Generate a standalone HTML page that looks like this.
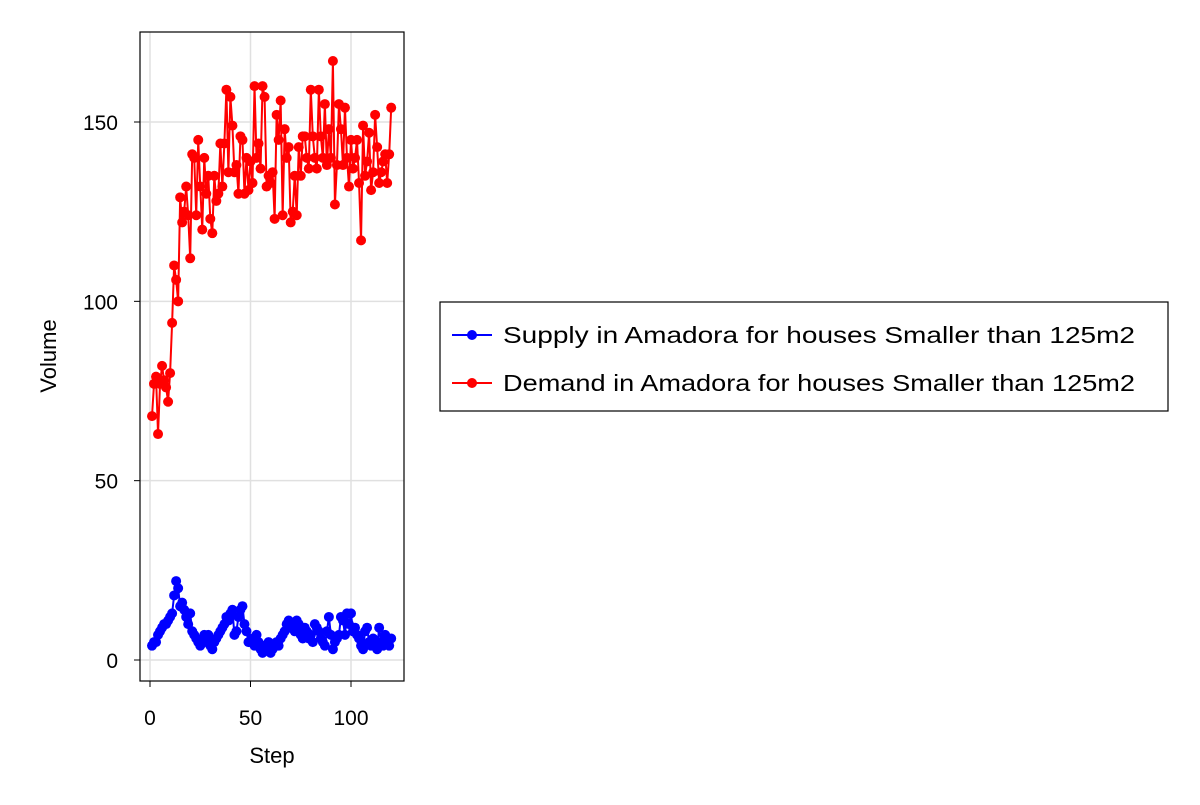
<!DOCTYPE html>
<html><head><meta charset="utf-8"><style>
body{margin:0;background:#fff;font-family:"Liberation Sans",Arial,sans-serif}
svg text{font-family:"Liberation Sans",Arial,sans-serif}
</style></head><body>
<svg id="c" width="1200" height="800" xmlns="http://www.w3.org/2000/svg"></svg>
<script>
const steps = Array.from({length:120},(_,i)=>i+1);
const demand = [68,77,79,63,77,82,78,76,72,80,
94,110,106,100,129,122,125,132,124,112,
141,140,124,145,132,120,140,130,135,123,
119,135,128,130,144,132,144,159,136,157,
149,136,138,130,146,145,130,140,131,139,
133,160,140,144,137,160,157,132,135,133,
136,123,152,145,156,124,148,140,143,122,
125,135,124,143,135,146,146,140,137,159,
146,140,137,159,146,140,155,138,148,140,
167,127,138,155,148,138,154,140,132,145,
137,140,145,133,117,149,135,139,147,131,
136,152,143,133,136,139,141,133,141,154];
const supply = [4,5,5,7,8,9,10,10,11,12,
13,18,22,20,15,16,14,12,10,13,
8,7,6,5,4,6,7,5,7,4,
3,5,6,7,8,9,10,12,11,13,
14,7,8,12,14,15,10,8,5,5,
6,4,7,5,3,2,4,3,5,2,
3,4,5,4,6,7,8,10,11,9,
10,8,11,10,7,6,9,8,6,7,
5,10,9,8,6,5,4,8,12,7,
3,5,6,7,12,11,7,13,10,13,
8,9,7,6,4,3,8,9,5,4,
6,4,3,9,5,4,7,5,4,6];
const xTicks = [0,50,100];
const yTicks = [0,50,100,150];
const seriesNames = ["Supply in Amadora for houses Smaller than 125m2","Demand in Amadora for houses Smaller than 125m2"];
const seriesColors = ["#0000ff","#ff0000"];

const svg = document.getElementById('c');
const NS = "http://www.w3.org/2000/svg";
const L=140,R=404,T=32,B=681;
const xs = v => 150 + (v-0)*(351-150)/100;
const ys = v => 660 - v*(660-122)/150;
function mk(tag, attrs, parent){const e=document.createElementNS(NS,tag);for(const k in attrs)e.setAttribute(k,attrs[k]);(parent||svg).appendChild(e);return e;}

xTicks.forEach(t=>{
  const g=mk('line',{x1:xs(t),x2:xs(t),y1:T,y2:B,stroke:'#e0e0e0','stroke-width':1.5});
  
  
  const tk=mk('line',{x1:xs(t),x2:xs(t),y1:B,y2:B+6,stroke:'#000','stroke-width':1});
  
  
  const tx=mk('text',{x:xs(t),y:725,'text-anchor':'middle','font-size':21});
  tx.textContent=t;
  
  
});
yTicks.forEach(t=>{
  const g=mk('line',{x1:L,x2:R,y1:ys(t),y2:ys(t),stroke:'#e0e0e0','stroke-width':1.5});
  
  
  const tk=mk('line',{x1:L-6,x2:L,y1:ys(t),y2:ys(t),stroke:'#000','stroke-width':1});
  
  
  const tx=mk('text',{x:L-22,y:ys(t)+8,'text-anchor':'end','font-size':21});
  tx.textContent=t;
  
  
});
const frame=mk('rect',{x:L,y:T,width:R-L,height:B-T,fill:'none',stroke:'#000','stroke-width':1.2});



[supply,demand].forEach((data,si)=>{
  const col=seriesColors[si];
  const p=mk('polyline',{points:data.map((v,i)=>xs(steps[i])+','+ys(v)).join(' '),fill:'none',stroke:col,'stroke-width':2});
  
  
  data.forEach((v,i)=>{
    const c=mk('circle',{cx:xs(steps[i]),cy:ys(v),r:5,fill:col});
    
    
  });
});

const xl=mk('text',{x:272,y:763,'text-anchor':'middle','font-size':22});
xl.textContent='Step';


const yl=mk('text',{x:0,y:0,'text-anchor':'middle','font-size':22,transform:'translate(56,356) rotate(-90)'});
yl.textContent='Volume';



const lg=mk('g',{});


mk('rect',{x:440,y:302,width:728,height:109,fill:'#fff',stroke:'#000','stroke-width':1.2},lg);
seriesNames.forEach((n,i)=>{
  const y=335+i*48;
  const e=mk('g',{},lg);
  
  
  mk('line',{x1:452,x2:492,y1:y,y2:y,stroke:seriesColors[i],'stroke-width':2},e);
  mk('circle',{cx:472,cy:y,r:5,fill:seriesColors[i]},e);
  const t=mk('text',{x:503,y:y+8,'font-size':23,textLength:632,lengthAdjust:'spacingAndGlyphs'},e);
  t.textContent=n;
});
</script>
</body></html>
